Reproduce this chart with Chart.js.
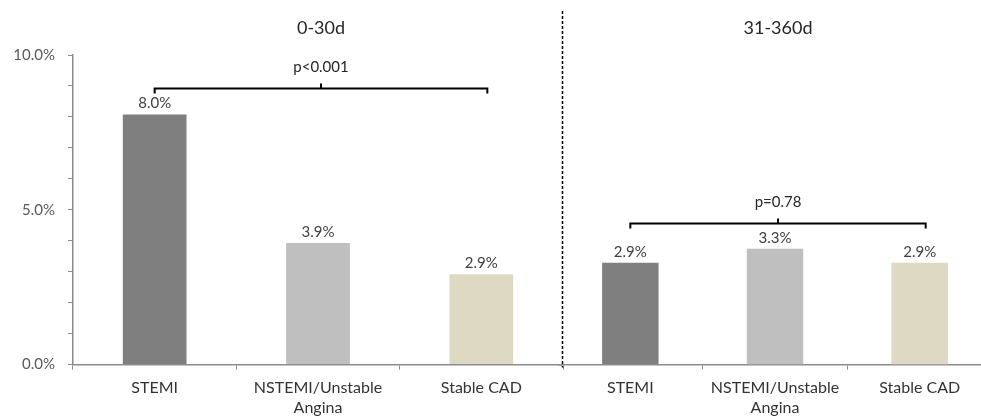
<!DOCTYPE html>
<html>
<head>
<meta charset="utf-8">
<script src="https://cdn.jsdelivr.net/npm/chart.js@4"></script>
<style>
    html, body { margin: 0; padding: 0; background: #fff; overflow: hidden; }
    #wrap { position: relative; width: 981px; height: 416px; overflow: hidden; }
    #left { position: absolute; left: 0; top: 0; z-index: 2; }
    #right { position: absolute; left: 558px; top: 0; z-index: 1; }
</style>
</head>
<body>
<div id="wrap">
    <canvas id="left" width="564" height="426"></canvas>
    <canvas id="right" width="434" height="426"></canvas>
</div>
<script>
// Chart values
const categories = [["STEMI"], ["NSTEMI/Unstable", "Angina"], ["Stable CAD"]];
const earlyValues = [8.08, 3.93, 2.92];
const lateValues = [3.29, 3.74, 3.29];
const earlyLabels = ["8.0%", "3.9%", "2.9%"];
const lateLabels = ["2.9%", "3.3%", "2.9%"];
const panelTitles = ["0-30d", "31-360d"];
const pValues = ["p<0.001", "p=0.78"];
const bracketLevels = [8.93, 4.58];
const yTicks = [0, 5, 10];
const barColors = ["#7f7f7f", "#bfbfbf", "#ddd9c3"];

const FONT = "Lato, 'Open Sans', sans-serif";

// Draws value labels, the p-value bracket and panel title
function annotationPlugin(labels, title, pText, level, dashed) {
    return {
        id: "annotations",
        afterDraw(chart) {
            const ctx = chart.ctx;
            const x = chart.scales.x;
            const y = chart.scales.y;
            const meta = chart.getDatasetMeta(0);
            ctx.save();

            // value labels
            ctx.fillStyle = "#404040";
            ctx.font = "15px " + FONT;
            ctx.textAlign = "center";
            ctx.textBaseline = "alphabetic";
            meta.data.forEach((bar, i) => {
                ctx.fillText(labels[i], bar.x, bar.y - 6);
            });

            // bracket
            const x0 = x.getPixelForValue(0);
            const x1 = x.getPixelForValue(2) + 6;
            const xm = (x0 + x1) / 2;
            const yb = Math.round(y.getPixelForValue(level)) + 0.5;
            ctx.strokeStyle = "#000";
            ctx.lineWidth = 2;
            ctx.beginPath();
            ctx.moveTo(x0, yb + 5);
            ctx.lineTo(x0, yb);
            ctx.lineTo(x1, yb);
            ctx.lineTo(x1, yb + 5);
            ctx.moveTo(xm, yb);
            ctx.lineTo(xm, yb - 5);
            ctx.stroke();

            ctx.fillStyle = "#262626";
            ctx.font = "15px " + FONT;
            ctx.textBaseline = "middle";
            ctx.fillText(pText, xm, yb - 21);

            // panel title
            ctx.font = "18px " + FONT;
            ctx.fillText(title, xm, 28);

            // dashed separator
            if (dashed) {
                const xs = chart.chartArea.right - 0.5;
                ctx.strokeStyle = "#000";
                ctx.lineWidth = 1.5;
                ctx.setLineDash([3, 2]);
                ctx.beginPath();
                ctx.moveTo(xs, 11);
                ctx.lineTo(xs, chart.chartArea.bottom + 3);
                ctx.stroke();
            }
            ctx.restore();
        }
    };
}

function makeChart(id, values, labels, title, pText, level, showY) {
    const ctx = document.getElementById(id).getContext("2d");
    return new Chart(ctx, {
        type: "bar",
        data: {
            labels: categories,
            datasets: [{
                data: values,
                backgroundColor: barColors,
                categoryPercentage: 1,
                barPercentage: 0.39
            }]
        },
        options: {
            responsive: false,
            animation: false,
            devicePixelRatio: 1,
            layout: { padding: { top: 55, left: 0, right: showY ? 1 : 0, bottom: 0 } },
            plugins: { legend: { display: false }, tooltip: { enabled: false } },
            scales: {
                x: {
                    grid: {
                        drawOnChartArea: false,
                        drawTicks: true,
                        tickLength: 5,
                        color: "#8c8c8c"
                    },
                    border: { color: "#8c8c8c", width: 1.5 },
                    ticks: {
                        color: "#333",
                        font: { family: FONT, size: 16, lineHeight: 1.2 },
                        padding: 9,
                        maxRotation: 0
                    }
                },
                y: {
                    display: showY,
                    min: 0,
                    max: 10,
                    afterFit(scale) { if (showY) scale.width = 73; },
                    grid: {
                        drawOnChartArea: false,
                        drawTicks: true,
                        tickLength: 5,
                        color: "#8c8c8c"
                    },
                    border: { color: "#8c8c8c", width: 1.5 },
                    ticks: {
                        stepSize: 1,
                        autoSkip: false,
                        color: "#595959",
                        font: { family: FONT, size: 15 },
                        padding: 13,
                        callback: (v) => yTicks.includes(v) ? v.toFixed(1) + "%" : ""
                    }
                }
            }
        },
        plugins: [annotationPlugin(labels, title, pText, level, showY)]
    });
}

makeChart("left", earlyValues, earlyLabels, panelTitles[0], pValues[0], bracketLevels[0], true);
makeChart("right", lateValues, lateLabels, panelTitles[1], pValues[1], bracketLevels[1], false);
</script>
</body>
</html>
